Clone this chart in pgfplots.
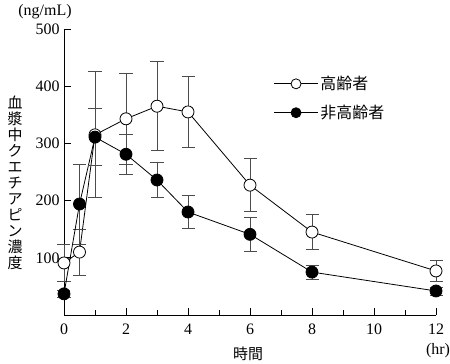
\documentclass[border=0pt]{standalone}
\usepackage{pgfplots}
\pgfplotsset{compat=1.18}
\usepackage{fontspec}
\setmainfont{Liberation Serif}
\newfontfamily\jp{Noto Sans CJK JP}
\begin{document}
\begin{tikzpicture}
\path[use as bounding box] (-64bp,-49bp) rectangle (386bp,315bp);
\begin{axis}[
  at={(0,0)}, anchor=origin,
  scale only axis, width=372bp, height=286bp,
  xmin=0, xmax=12, ymin=0, ymax=500,
  axis lines*=left,
  axis line style={line width=0.8bp},
  clip=false,
  tick align=inside,
  major tick length=7bp, minor tick length=4.5bp,
  tick style={line width=0.8bp, black},
  xtick={0,2,...,12}, minor xtick={1,3,...,11},
  ytick={100,200,...,500},
  ticklabel style={font=\fontsize{16}{18}\selectfont},
  /pgf/number format/assume math mode=true,
  xticklabel style={yshift=-5bp},
  yticklabel style={xshift=-1bp},
  legend cell align=left,
  legend image code/.code={\draw[mark repeat=2,mark phase=2, mark size=5bp] plot coordinates {(0bp,0bp)(22bp,0bp)(44bp,0bp)};},
  legend style={draw=none, fill=none, at={(rel axis cs:0.563,0.842)}, anchor=north west,
    font=\jp\fontsize{16}{18}\selectfont, row sep=10bp, inner sep=0pt},
  every axis plot/.append style={line width=0.8bp},
  error bars/error bar style={line width=0.8bp, black!70},
  error bars/error mark options={rotate=90, mark size=6.5bp, line width=0.8bp, black!70},
]
\addplot[black, mark=*, mark size=6bp, mark options={fill=white, draw=black, line width=0.8bp},
  error bars/.cd, y dir=both, y explicit]
  table[x=t, y=c, y error=e] {
t c e
0 91 33
0.5 110 40
1 315 110
2 343 80
3 365 78
4 355 62
6 227 46
8 145 31
12 77 19
};
\addlegendentry{高齢者}
\addplot[black, mark=*, mark size=6bp, mark options={fill=black},
  error bars/.cd, y dir=both, y explicit]
  table[x=t, y=c, y error=e] {
t c e
0 37 6
0.5 194 70
1 311 50
2 281 35
3 236 30
4 180 29
6 141 30
8 75 12
12 42 7
};
\addlegendentry{非高齢者}
\end{axis}
\node[font=\jp\fontsize{15}{16}\selectfont, align=center] at (-49bp,132bp)
  {血\\漿\\中\\ク\\エ\\チ\\ア\\ピ\\ン\\濃\\度};
\node[font=\fontsize{16}{18}\selectfont] at (-19bp,303bp) {(ng/mL)};
\node[font=\jp\fontsize{15}{17}\selectfont] at (184bp,-39bp) {時間};
\node[font=\fontsize{16}{18}\selectfont] at (374bp,-36bp) {(hr)};
\end{tikzpicture}
\end{document}
